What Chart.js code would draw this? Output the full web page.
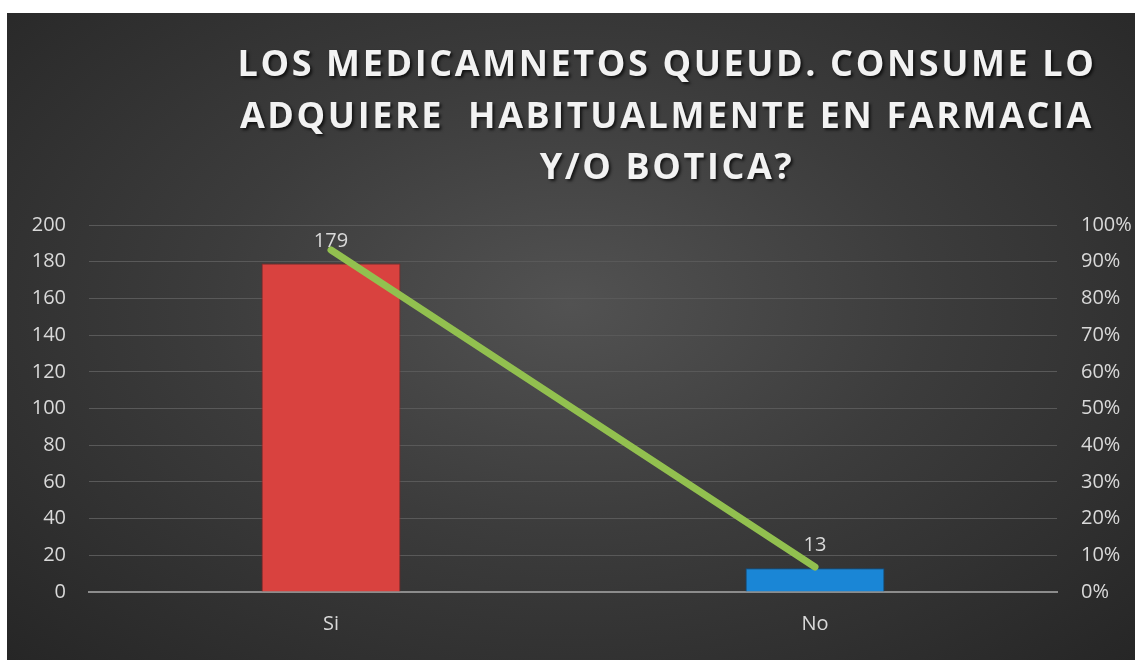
<!DOCTYPE html>
<html>
<head>
<meta charset="utf-8">
<script src="https://cdn.jsdelivr.net/npm/chart.js@4"></script>
<style>
    html, body { margin: 0; padding: 0; background: #ffffff; overflow: hidden; }
    #frame {
        position: absolute; left: 7px; top: 13px; width: 1128px; height: 647px;
        background: radial-gradient(ellipse farthest-corner at 50% 45%, #525252 0%, #3c3c3c 45%, #262626 100%);
    }
    #title {
        position: absolute; left: 160px; top: 24px; width: 1000px;
        font-family: "Open Sans", sans-serif; font-weight: bold; font-size: 36px;
        line-height: 51.5px; letter-spacing: 2.6px; color: #f2f2f2; text-align: center;
        white-space: pre; text-shadow: 2px 2px 3px rgba(0, 0, 0, 0.7);
    }
    #chart { position: absolute; left: 0; top: 0; }
</style>
</head>
<body>
<div id="frame">
    <canvas id="chart" width="1128" height="647"></canvas>
    <div id="title"></div>
</div>
<script>
const titleLines = ["LOS MEDICAMNETOS QUEUD. CONSUME LO", "ADQUIERE  HABITUALMENTE EN FARMACIA", "Y/O BOTICA?"]
const categories = ["Si", "No"]
const counts = [179, 13]
const percents = [93.2, 6.8]
const countTicks = [0, 200, 20]
const barColors = ["#d9423f", "#1a86d6"]
const barBorders = ["#8c1f1d", "#0b4f86"]

document.getElementById('title').textContent = titleLines.join("\n")

const labelColor = "#d9d9d9"
const tickFont = {family: "Open Sans", size: 20}

// numbers above the bars
const barLabels = {
    id: 'barLabels',
    afterDatasetsDraw(chart) {
        const ctx = chart.ctx
        const meta = chart.getDatasetMeta(1)
        ctx.save()
        ctx.fillStyle = labelColor
        ctx.font = "20px 'Open Sans'"
        ctx.textAlign = 'center'
        ctx.textBaseline = 'alphabetic'
        meta.data.forEach((bar, i) => {
            ctx.fillText(String(counts[i]), bar.x, bar.y - 17)
        })
        ctx.restore()
    }
}

new Chart(document.getElementById('chart'), {
    data: {
        labels: categories,
        datasets: [
            {
                type: 'line',
                data: percents,
                yAxisID: 'y1',
                borderColor: "#92c04f",
                borderWidth: 7,
                borderCapStyle: 'round',
                pointRadius: 0,
                order: 0
            },
            {
                type: 'bar',
                data: counts,
                yAxisID: 'y',
                backgroundColor: barColors,
                borderColor: barBorders,
                borderWidth: 1,
                barPercentage: 0.287,
                categoryPercentage: 1,
                order: 1
            }
        ]
    },
    options: {
        responsive: false,
        animation: false,
        layout: {padding: {top: 212, left: 0, right: 0, bottom: 0}},
        plugins: {legend: {display: false}, tooltip: {enabled: false}, title: {display: false}},
        scales: {
            x: {
                grid: {display: false, drawTicks: false},
                border: {display: true, color: "#8c8c8c", width: 2},
                ticks: {color: labelColor, font: tickFont, padding: 20},
                afterFit(scale) { scale.height = 68 }
            },
            y: {
                position: 'left',
                min: countTicks[0],
                max: countTicks[1],
                ticks: {stepSize: countTicks[2], color: labelColor, font: tickFont, padding: 23},
                grid: {color: "#595959", lineWidth: 1, drawTicks: false},
                border: {display: false},
                afterFit(scale) { scale.width = 82 }
            },
            y1: {
                position: 'right',
                min: 0,
                max: 100,
                ticks: {stepSize: 10, color: labelColor, font: tickFont, padding: 24,
                        callback: v => v + "%"},
                grid: {display: false, drawTicks: false},
                border: {display: false},
                afterFit(scale) { scale.width = 78 }
            }
        }
    },
    plugins: [barLabels]
})
</script>
</body>
</html>
